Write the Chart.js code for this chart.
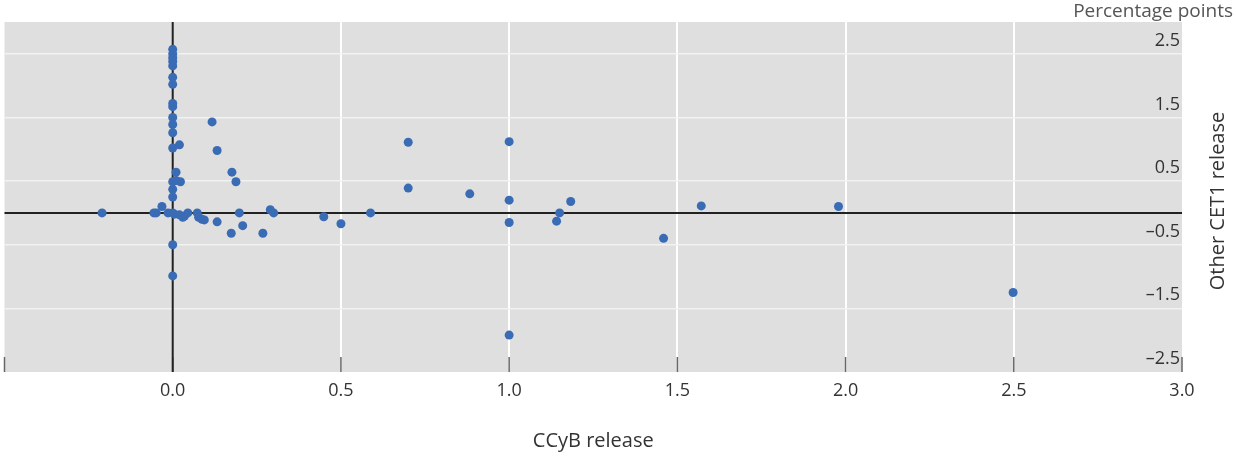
<!DOCTYPE html>
<html>
<head>
<meta charset="utf-8">
<script src="https://cdn.jsdelivr.net/npm/chart.js@4"></script>
<style>
    html, body { margin: 0; padding: 0; background: #ffffff; }
    #wrap { width: 1236px; height: 456px; }
</style>
</head>
<body>
<div id="wrap"><canvas id="releaseChart" width="1236" height="456"></canvas></div>
<script>
// CCyB release (x) against other CET1 release (y), percentage points
const ccybRelease =
[
    0, 0, 0, 0, 0, 0, 0, 0, 0, 0, 0, 0, 0, 0, 0, 0, 0, 0, 0,
    0.02, 0.01, 0.01, 0.023, -0.032, -0.049, -0.056, -0.014, 0.005, 0.02,
    0.035, 0.045, 0.03, 0.073, 0.077, 0.087, 0.094, 0.132, -0.21,
    0.117, 0.132, 0.176, 0.188, 0.174, 0.198, 0.208, 0.268, 0.29, 0.30,
    0.449, 0.50, 0.588, 0.70, 0.70, 0.883, 1.0, 1.0, 1.0, 1.0,
    1.141, 1.15, 1.183, 1.459, 1.571, 1.979, 2.498
];

const otherRelease =
[
    2.57, 2.50, 2.44, 2.38, 2.31, 2.13, 2.02, 1.72, 1.67, 1.50, 1.39, 1.26, 1.02, 0.49, 0.37, 0.25, -0.50, -0.99, 0.0,
    1.07, 0.64, 0.51, 0.49, 0.10, 0.0, 0.0, 0.0, -0.02, -0.03,
    -0.05, 0.0, -0.07, 0.0, -0.07, -0.10, -0.11, -0.14, 0.0,
    1.43, 0.98, 0.64, 0.49, -0.32, 0.0, -0.20, -0.32, 0.05, 0.0,
    -0.06, -0.17, 0.0, 1.11, 0.39, 0.30, 1.12, 0.20, -0.15, -1.92,
    -0.13, 0.0, 0.18, -0.40, 0.11, 0.10, -1.25
];

const xTicks = [-0.5, 0, 0.5, 1.0, 1.5, 2.0, 2.5, 3.0];
const yTicks = [-2.5, -1.5, -0.5, 0, 0.5, 1.5, 2.5];

const FONT_FAMILY = '"Open Sans", "Noto Sans", sans-serif';
const TEXT_COLOR = '#333333';
const POINT_COLOR = '#3a6cb5';
const PANEL_COLOR = '#dfdfdf';

function formatTick(value)
{
    const s = Math.abs(value).toFixed(1);
    return value < 0 ? '\u2013' + s : s;
}

function clearPadding(scale)
{
    scale.paddingLeft = 0;
    scale.paddingRight = 0;
    scale.paddingTop = 0;
    scale.paddingBottom = 0;
}

const points = ccybRelease.map((x, i) => ({ x: x, y: otherRelease[i] }));

const panelPlugin =
{
    id: 'panel',
    beforeDraw(chart)
    {
        const { ctx, chartArea } = chart;
        ctx.save();
        ctx.fillStyle = PANEL_COLOR;
        ctx.fillRect(chartArea.left, chartArea.top, chartArea.right - chartArea.left, chartArea.bottom - chartArea.top);
        ctx.restore();
    },
    beforeDatasetsDraw(chart)
    {
        const { ctx, chartArea } = chart;
        const xs = chart.scales.x;
        const ys = chart.scales.y;

        ctx.save();

        // little inner ticks along the bottom edge
        ctx.strokeStyle = '#666666';
        ctx.lineWidth = 1.5;
        xTicks.forEach(v =>
        {
            const px = xs.getPixelForValue(v);
            ctx.beginPath();
            ctx.moveTo(px, chartArea.bottom - 15);
            ctx.lineTo(px, chartArea.bottom);
            ctx.stroke();
        });

        // zero lines
        ctx.strokeStyle = '#222222';
        ctx.lineWidth = 2;
        const x0 = xs.getPixelForValue(0);
        const y0 = ys.getPixelForValue(0);
        ctx.beginPath();
        ctx.moveTo(x0, chartArea.top);
        ctx.lineTo(x0, chartArea.bottom);
        ctx.moveTo(chartArea.left, y0);
        ctx.lineTo(chartArea.right, y0);
        ctx.stroke();

        ctx.restore();
    },
    afterDraw(chart)
    {
        const { ctx, chartArea } = chart;
        ctx.save();

        ctx.fillStyle = '#555555';
        ctx.font = '19px ' + FONT_FAMILY;
        ctx.textAlign = 'right';
        ctx.textBaseline = 'middle';
        ctx.fillText('Percentage points', 1233, 12);

        ctx.fillStyle = TEXT_COLOR;
        ctx.font = '20px ' + FONT_FAMILY;
        ctx.translate(1218, (chartArea.top + chartArea.bottom) / 2 + 4);
        ctx.rotate(-Math.PI / 2);
        ctx.textAlign = 'center';
        ctx.fillText('Other CET1 release', 0, 0);

        ctx.restore();
    }
};

const releaseChart = new Chart(
    document.getElementById('releaseChart'),
    {
        type: 'scatter',
        data:
        {
            datasets:
            [{
                data: points,
                backgroundColor: POINT_COLOR,
                borderColor: POINT_COLOR,
                borderWidth: 0,
                pointRadius: 4.5,
                pointHoverRadius: 4.5
            }]
        },
        options:
        {
            responsive: false,
            animation: false,
            layout: { padding: { left: 3, right: 54, top: 22, bottom: 0 } },
            plugins: { legend: { display: false }, tooltip: { enabled: false } },
            scales:
            {
                x:
                {
                    type: 'linear',
                    min: -0.5,
                    max: 3.0,
                    afterBuildTicks: scale => { scale.ticks = xTicks.map(v => ({ value: v })); },
                    afterFit: scale => { scale.height = 84; clearPadding(scale); },
                    border: { display: false },
                    grid:
                    {
                        drawTicks: false,
                        lineWidth: 2,
                        color: ctx => (ctx.tick && (ctx.tick.value === 0 || ctx.tick.value === -0.5 || ctx.tick.value === 3)) ? 'rgba(0,0,0,0)' : '#ffffff'
                    },
                    ticks:
                    {
                        autoSkip: false,
                        maxRotation: 0,
                        padding: 8,
                        color: TEXT_COLOR,
                        font: { family: FONT_FAMILY, size: 18 },
                        callback: v => v === -0.5 ? '' : v.toFixed(1)
                    },
                    title:
                    {
                        display: true,
                        text: 'CCyB release',
                        color: TEXT_COLOR,
                        font: { family: FONT_FAMILY, size: 20 },
                        padding: { top: 0, bottom: 3 }
                    }
                },
                y:
                {
                    type: 'linear',
                    position: 'right',
                    min: -2.5,
                    max: 3.0,
                    afterBuildTicks: scale => { scale.ticks = yTicks.map(v => ({ value: v })); },
                    afterFit: scale => { scale.width = 0; clearPadding(scale); },
                    border: { display: false },
                    grid:
                    {
                        drawTicks: false,
                        lineWidth: 1.5,
                        color: ctx => (ctx.tick && (ctx.tick.value === 0 || ctx.tick.value === -2.5)) ? 'rgba(0,0,0,0)' : '#f2f2f2'
                    },
                    ticks:
                    {
                        mirror: true,
                        padding: -2,
                        labelOffset: -13,
                        color: TEXT_COLOR,
                        font: { family: FONT_FAMILY, size: 18 },
                        callback: v => v === 0 ? '' : formatTick(v)
                    }
                }
            }
        },
        plugins: [panelPlugin]
    }
);
</script>
</body>
</html>
